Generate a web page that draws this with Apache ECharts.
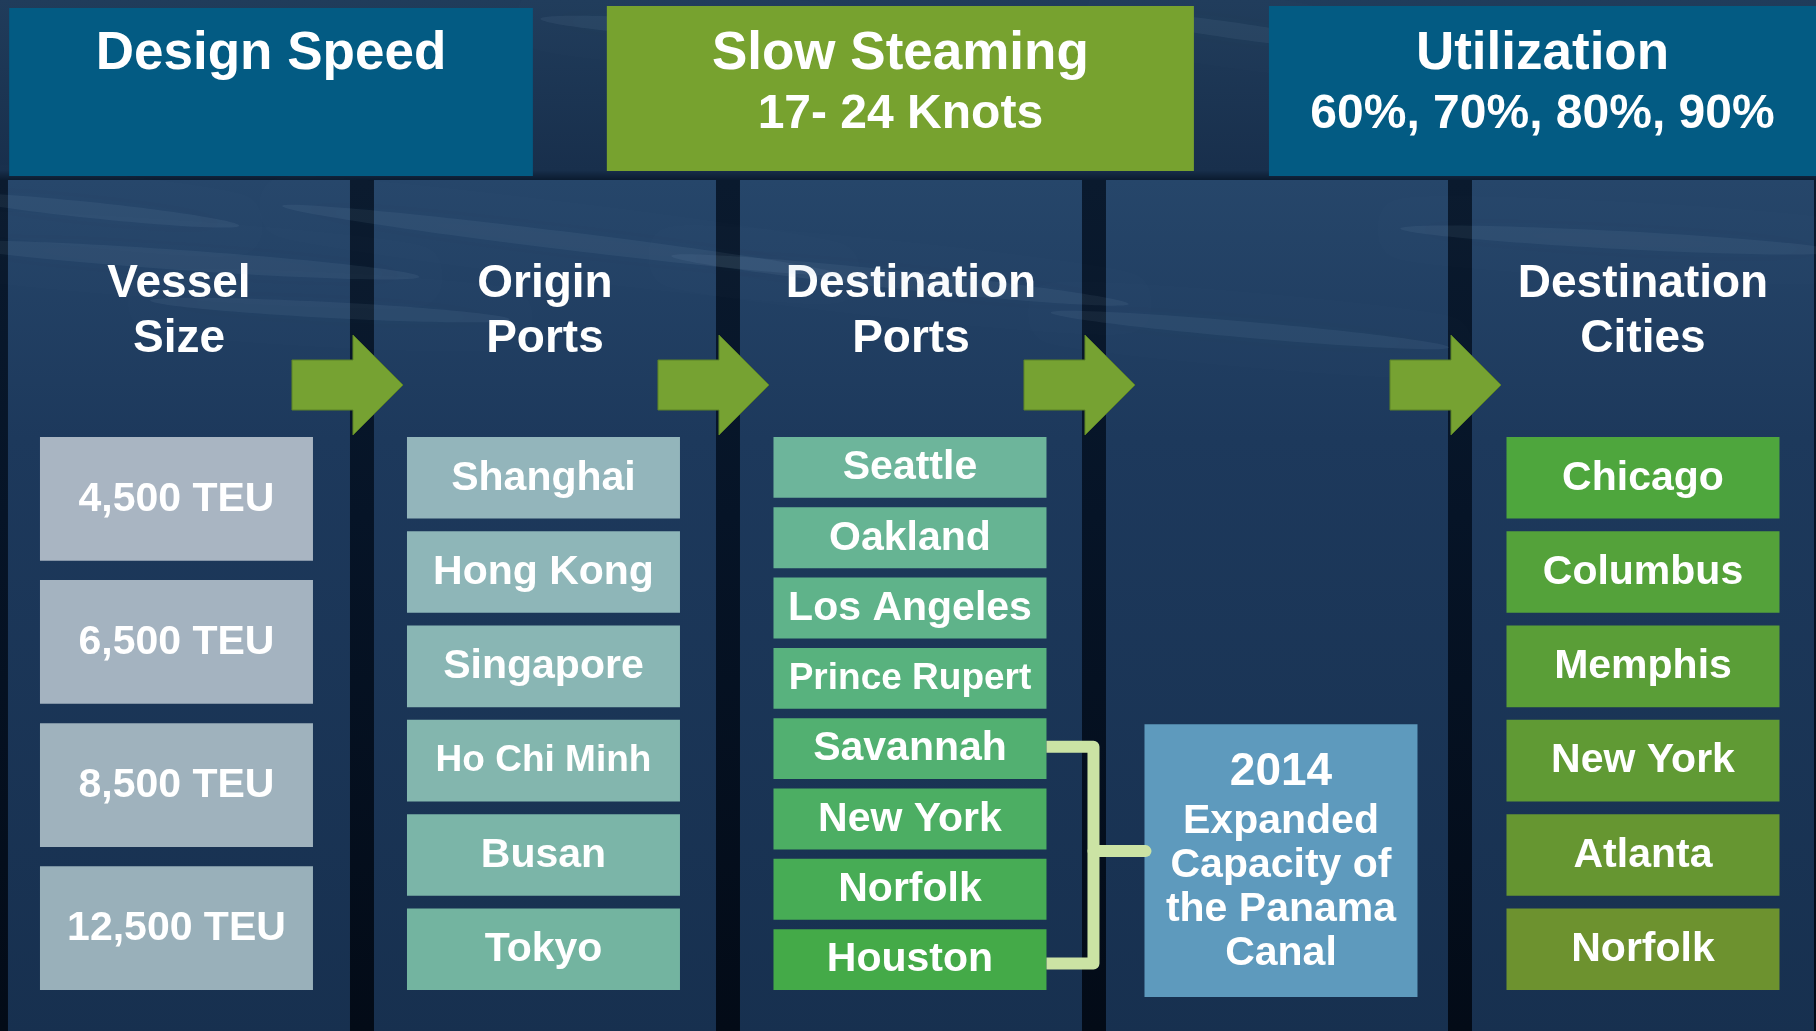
<!DOCTYPE html>
<html>
<head>
<meta charset="utf-8">
<title>Vessel routing scenarios</title>
<style>
  html, body { margin: 0; padding: 0; background: #0b1d33; }
  #chart { width: 1816px; height: 1031px; }
</style>
<script src="https://cdn.jsdelivr.net/npm/echarts@6/dist/echarts.min.js"></script>
</head>
<body>
<div id="chart"></div>
<script>
  'use strict';

  // ---- data ----
  const columnTitles = ['Vessel\nSize', 'Origin\nPorts', 'Destination\nPorts', '', 'Destination\nCities'];
  const vesselSizes = ['4,500 TEU', '6,500 TEU', '8,500 TEU', '12,500 TEU'];
  const originPorts = ['Shanghai', 'Hong Kong', 'Singapore', 'Ho Chi Minh', 'Busan', 'Tokyo'];
  const destinationPorts = ['Seattle', 'Oakland', 'Los Angeles', 'Prince Rupert', 'Savannah', 'New York', 'Norfolk', 'Houston'];
  const destinationCities = ['Chicago', 'Columbus', 'Memphis', 'New York', 'Atlanta', 'Norfolk'];
  const scenarioTitles = ['Design Speed', 'Slow Steaming', 'Utilization'];
  const scenarioValues = ['', '17- 24 Knots', '60%, 70%, 80%, 90%'];
  const canalNote = ['2014', 'Expanded', 'Capacity of', 'the Panama', 'Canal'];
  const canalPorts = ['Savannah', 'Houston'];
  const flowSteps = [0, 1, 2, 3];

  // ---- styles ----
  const vesselColors = ['#a9b5c2', '#a4b3c0', '#9fb2bd', '#99b0ba'];
  const originColors = ['#93b5bb', '#8eb6b8', '#89b6b4', '#83b6ae', '#7bb5a8', '#73b4a0'];
  const portColors = ['#6db59b', '#66b493', '#5fb38a', '#58b27e', '#52b071', '#4cae63', '#47ac55', '#44aa48'];
  const cityColors = ['#4ea63d', '#54a23a', '#5a9e37', '#609a34', '#669631', '#6d922f'];
  const scenarioColors = ['#035b83', '#77a22f', '#035b83'];
  const smallLabels = { 'Ho Chi Minh': 37, 'Prince Rupert': 37 };
  const FONT = '"Liberation Sans", Arial, Helvetica, sans-serif';

  // ---- layout (pixels / column units) ----
  const PANEL_GAP = 24;
  const PANEL_TOP = 180;
  const BOX_W = 273;
  const GAP_RATIO = 0.135;
  const boxShift = [-2.5, -1.5, -1, 0, 0];
  const topBoxSpans = [[-0.464, 0.967, 8, 176], [1.169, 2.773, 6, 171], [2.978, 4.473, 6, 176]];

  const columns = [
    { list: vesselSizes, colors: vesselColors },
    { list: originPorts, colors: originColors },
    { list: destinationPorts, colors: portColors },
    null,
    { list: destinationCities, colors: cityColors }
  ];

  const items = [];
  columns.forEach((col, c) => {
    if (!col) return;
    col.list.forEach((label, r) => {
      items.push({ col: c, row: r, count: col.list.length, label, color: col.colors[r] });
    });
  });

  function rowRect(api, c, row, count) {
    const cx = api.coord([c, 0])[0] + boxShift[c];
    const y0 = api.coord([c, 0])[1];
    const y1 = api.coord([c, 1])[1];
    const slot = (y1 - y0) / (count - GAP_RATIO);
    return { x: cx - BOX_W / 2, y: y0 + row * slot, width: BOX_W, height: slot * (1 - GAP_RATIO), cx };
  }

  function renderPanel(params, api) {
    const c = api.value(0);
    const left = api.coord([c - 0.5, 0])[0] + PANEL_GAP / 2;
    const right = api.coord([c + 0.5, 0])[0] - PANEL_GAP / 2;
    const cx = api.coord([c, 0])[0];
    return {
      type: 'group',
      children: [
        {
          type: 'rect',
          shape: { x: left, y: PANEL_TOP, width: right - left, height: 1031 - PANEL_TOP + 10 },
          style: {
            fill: new echarts.graphic.LinearGradient(0, 0, 0, 1, [
              { offset: 0, color: '#26466a' },
              { offset: 0.3, color: '#1d395c' },
              { offset: 1, color: '#17304f' }
            ])
          }
        },
        {
          type: 'text',
          style: {
            text: columnTitles[params.dataIndex], x: cx, y: PANEL_TOP + 132,
            align: 'center', verticalAlign: 'middle', lineHeight: 55,
            font: 'bold 46px ' + FONT, fill: '#ffffff'
          }
        }
      ]
    };
  }

  function renderItemBox(params, api) {
    const d = items[params.dataIndex];
    const r = rowRect(api, api.value(0), api.value(1), api.value(2));
    const size = smallLabels[d.label] || 41;
    return {
      type: 'group',
      children: [
        { type: 'rect', shape: { x: r.x, y: r.y, width: r.width, height: r.height }, style: { fill: d.color } },
        {
          type: 'text',
          style: {
            text: d.label, x: r.cx, y: r.y + r.height / 2 + 0.5,
            align: 'center', verticalAlign: 'middle',
            font: 'bold ' + size + 'px ' + FONT, fill: '#ffffff'
          }
        }
      ]
    };
  }

  function renderArrow(params, api) {
    const c = api.value(0);
    const cx = api.coord([c, 0])[0];
    const yc = api.coord([c, 0])[1] - 52;
    const b0 = cx + 113, b1 = cx + 174, tip = cx + 224;
    return {
      type: 'polygon',
      shape: {
        points: [[b0, yc - 25], [b1, yc - 25], [b1, yc - 50], [tip, yc], [b1, yc + 50], [b1, yc + 25], [b0, yc + 25]]
      },
      style: { fill: '#76a232', stroke: '#5b8227', lineWidth: 1 }
    };
  }

  function renderCanal(params, api) {
    const from = destinationPorts.indexOf(canalPorts[0]);
    const to = destinationPorts.indexOf(canalPorts[1]);
    const n = destinationPorts.length;
    const a = rowRect(api, 2, from, n);
    const b = rowRect(api, 2, to, n);
    const bx = api.coord([3, 0])[0] + 4;
    const boxTop = a.y + 6, boxBottom = b.y + b.height + 7;
    const portRight = a.x + a.width;
    const vx = portRight + 47;
    const ya = a.y + a.height / 2 - 2, yb = b.y + b.height / 2 + 4;
    const ym = (ya + yb) / 2 - 4;
    const boxLeft = bx - BOX_W / 2;
    const lineStyle = { stroke: '#cbe3a4', lineWidth: 12, fill: null, lineJoin: 'round' };
    return {
      type: 'group',
      children: [
        { type: 'rect', shape: { x: boxLeft, y: boxTop, width: BOX_W, height: boxBottom - boxTop }, style: { fill: '#5e9abd' } },
        {
          type: 'text',
          style: {
            text: canalNote[0], x: bx, y: boxTop + 48,
            align: 'center', verticalAlign: 'middle',
            font: 'bold 46px ' + FONT, fill: '#ffffff'
          }
        },
        {
          type: 'text',
          style: {
            text: canalNote.slice(1).join('\n'), x: bx, y: boxTop + 163,
            align: 'center', verticalAlign: 'middle', lineHeight: 44,
            font: 'bold 41px ' + FONT, fill: '#ffffff'
          }
        },
        { type: 'polyline', shape: { points: [[portRight, ya], [vx, ya], [vx, yb], [portRight, yb]] }, style: lineStyle },
        { type: 'line', shape: { x1: vx, y1: ym, x2: boxLeft + 1, y2: ym }, style: Object.assign({}, lineStyle, { lineCap: 'round' }) }
      ]
    };
  }

  function renderScenario(params, api) {
    const i = params.dataIndex;
    const span = topBoxSpans[i];
    const x0 = api.coord([span[0], 0])[0];
    const x1 = api.coord([span[1], 0])[0];
    const cx = (x0 + x1) / 2;
    const children = [
      { type: 'rect', shape: { x: x0, y: span[2], width: x1 - x0, height: span[3] - span[2] }, style: { fill: scenarioColors[i] } },
      {
        type: 'text',
        style: {
          text: scenarioTitles[i], x: cx, y: 54,
          align: 'center', verticalAlign: 'middle',
          font: 'bold 53px ' + FONT, fill: '#ffffff'
        }
      }
    ];
    if (scenarioValues[i]) {
      children.push({
        type: 'text',
        style: {
          text: scenarioValues[i], x: cx, y: 115,
          align: 'center', verticalAlign: 'middle',
          font: 'bold 48px ' + FONT, fill: '#ffffff'
        }
      });
    }
    return { type: 'group', children };
  }

  // soft wave streaks over the ocean backdrop
  const streaks = [
    [180, 260, 240, 10, -4], [560, 240, 280, 9, -7], [330, 310, 180, 8, -3],
    [900, 280, 230, 9, -6], [1250, 330, 200, 8, -5], [700, 30, 160, 9, -4],
    [1620, 240, 220, 9, -3], [1230, 30, 120, 8, -8], [90, 210, 150, 8, -6]
  ].map(([x, y, rx, ry, rot]) => ({
    type: 'ellipse',
    z: 3,
    x, y, rotation: rot * Math.PI / 180,
    shape: { cx: 0, cy: 0, rx, ry },
    style: { fill: 'rgba(170,200,230,0.07)', shadowBlur: 25, shadowColor: 'rgba(170,200,230,0.2)' },
    silent: true
  }));

  const chart = echarts.init(document.getElementById('chart'));
  chart.setOption({
    animation: false,
    backgroundColor: new echarts.graphic.LinearGradient(0, 0, 0, 1, [
      { offset: 0, color: '#203c5b' },
      { offset: 0.165, color: '#182f4c' },
      { offset: 0.175, color: '#0a1a2e' },
      { offset: 0.5, color: '#061427' },
      { offset: 1, color: '#030b17' }
    ]),
    graphic: streaks,
    grid: { left: 0, right: 0, top: 437, bottom: 41 },
    xAxis: { type: 'value', min: -0.489, max: 4.4727, show: false },
    yAxis: { type: 'value', min: 0, max: 1, inverse: true, show: false },
    series: [
      { type: 'custom', z: 1, renderItem: renderPanel, data: columnTitles.map((t, i) => [i]) },
      { type: 'custom', z: 5, renderItem: renderScenario, data: scenarioTitles.map((t, i) => [i]) },
      { type: 'custom', z: 5, renderItem: renderArrow, data: flowSteps.map((s) => [s]) },
      { type: 'custom', z: 5, renderItem: renderItemBox, data: items.map((d) => [d.col, d.row, d.count]) },
      { type: 'custom', z: 6, renderItem: renderCanal, data: [[3]] }
    ]
  });
</script>
</body>
</html>
